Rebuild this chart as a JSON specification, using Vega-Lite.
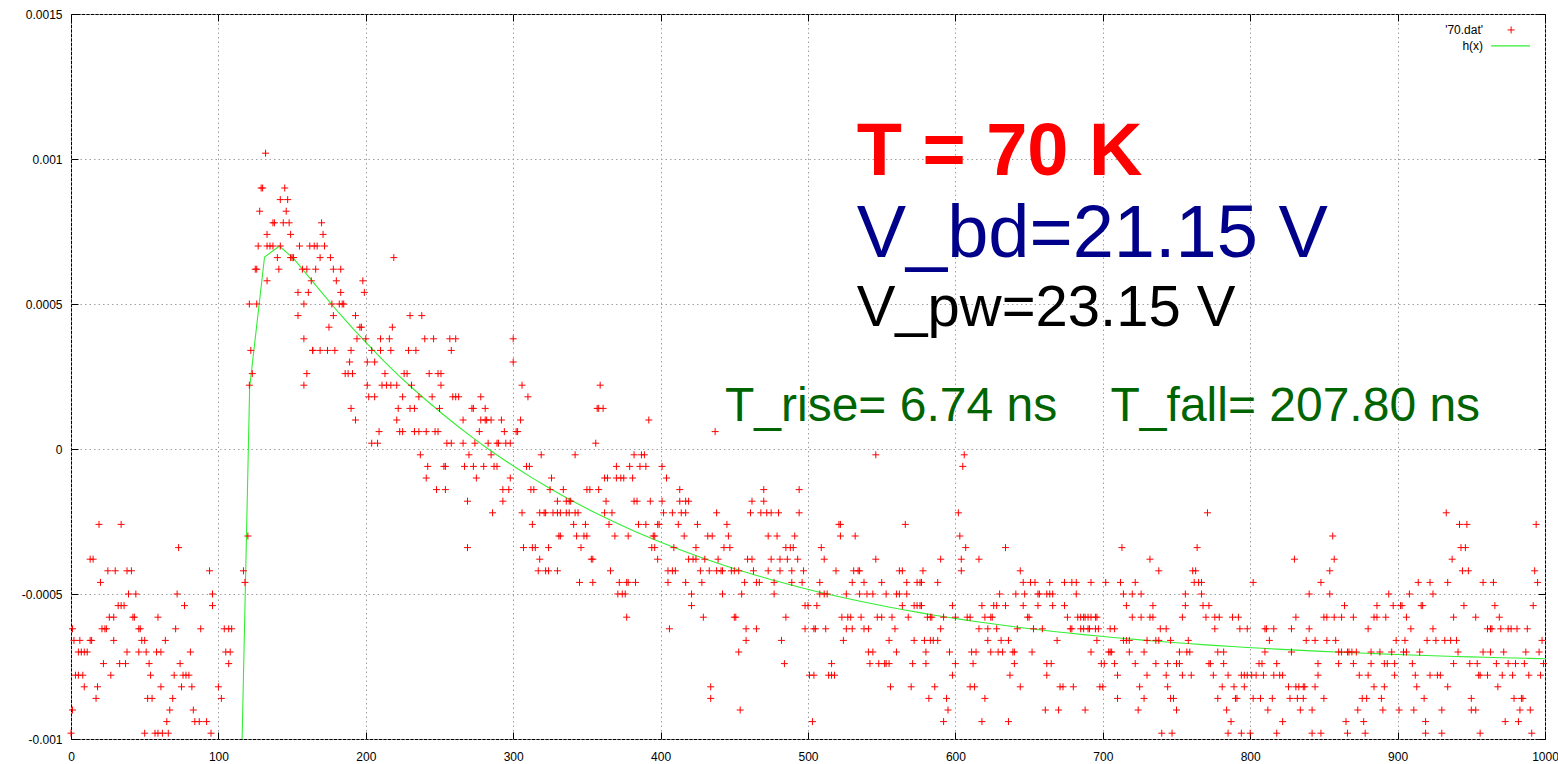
{
"$schema": "https://vega.github.io/schema/vega-lite/v6.json",
"width": 1474, "height": 725,
"autosize": {"type": "none"},
"padding": {"left": 71, "top": 14, "right": 13, "bottom": 25},
"background": "white",
"config": {"view": {"stroke": "black", "strokeWidth": 1}, "font": "Liberation Sans"},
"resolve": {"axis": {"x": "independent", "y": "independent"}},
"datasets": {
"fit": [
{"x":111.11,"y":-0.00218},{"x":121.21,"y":0.000214},{"x":131.31,"y":0.000662},{"x":141.41,"y":0.0007},{"x":151.52,"y":0.000654},{"x":161.62,"y":0.000592},{"x":171.72,"y":0.00053},{"x":181.82,"y":0.000469},{"x":191.92,"y":0.000412},{"x":202.02,"y":0.000357},{"x":212.12,"y":0.000304},{"x":222.22,"y":0.000254},{"x":232.32,"y":0.000207},{"x":242.42,"y":0.000162},{"x":252.53,"y":0.000119},{"x":262.63,"y":0.0000775},{"x":272.73,"y":0.0000384},{"x":282.83,"y":0.0000011},{"x":292.93,"y":-0.0000344},{"x":303.03,"y":-0.0000682},{"x":313.13,"y":-0.0001004},{"x":323.23,"y":-0.0001311},{"x":333.33,"y":-0.0001603},{"x":343.43,"y":-0.0001882},{"x":353.54,"y":-0.0002147},{"x":363.64,"y":-0.0002399},{"x":373.74,"y":-0.000264},{"x":383.84,"y":-0.0002869},{"x":393.94,"y":-0.0003088},{"x":404.04,"y":-0.0003295},{"x":414.14,"y":-0.0003494},{"x":424.24,"y":-0.0003682},{"x":434.34,"y":-0.0003862},{"x":444.44,"y":-0.0004033},{"x":454.55,"y":-0.0004196},{"x":464.65,"y":-0.0004352},{"x":474.75,"y":-0.00045},{"x":484.85,"y":-0.000464},{"x":494.95,"y":-0.0004775},{"x":505.05,"y":-0.0004903},{"x":515.15,"y":-0.0005024},{"x":525.25,"y":-0.000514},{"x":535.35,"y":-0.0005251},{"x":545.45,"y":-0.0005356},{"x":555.56,"y":-0.0005457},{"x":565.66,"y":-0.0005552},{"x":575.76,"y":-0.0005643},{"x":585.86,"y":-0.000573},{"x":595.96,"y":-0.0005812},{"x":606.06,"y":-0.0005891},{"x":616.16,"y":-0.0005966},{"x":626.26,"y":-0.0006037},{"x":636.36,"y":-0.0006105},{"x":646.46,"y":-0.000617},{"x":656.57,"y":-0.0006232},{"x":666.67,"y":-0.0006291},{"x":676.77,"y":-0.0006346},{"x":686.87,"y":-0.00064},{"x":696.97,"y":-0.000645},{"x":707.07,"y":-0.0006499},{"x":717.17,"y":-0.0006545},{"x":727.27,"y":-0.0006589},{"x":737.37,"y":-0.0006631},{"x":747.47,"y":-0.000667},{"x":757.58,"y":-0.0006708},{"x":767.68,"y":-0.0006745},{"x":777.78,"y":-0.0006779},{"x":787.88,"y":-0.0006812},{"x":797.98,"y":-0.0006843},{"x":808.08,"y":-0.0006873},{"x":818.18,"y":-0.0006901},{"x":828.28,"y":-0.0006928},{"x":838.38,"y":-0.0006954},{"x":848.48,"y":-0.0006978},{"x":858.59,"y":-0.0007002},{"x":868.69,"y":-0.0007024},{"x":878.79,"y":-0.0007045},{"x":888.89,"y":-0.0007065},{"x":898.99,"y":-0.0007084},{"x":909.09,"y":-0.0007103},{"x":919.19,"y":-0.000712},{"x":929.29,"y":-0.0007137},{"x":939.39,"y":-0.0007153},{"x":949.49,"y":-0.0007168},{"x":959.6,"y":-0.0007182},{"x":969.7,"y":-0.0007196},{"x":979.8,"y":-0.0007209},{"x":989.9,"y":-0.0007221},{"x":1000,"y":-0.0007233}
],
"pts": [
{"x":19,"y":-0.00026},{"x":34,"y":-0.00026},{"x":73,"y":-0.00034},{"x":13,"y":-0.00038},{"x":15,"y":-0.00038},{"x":25,"y":-0.00042},{"x":30,"y":-0.00042},{"x":38,"y":-0.00042},{"x":41,"y":-0.00042},{"x":20,"y":-0.00046},{"x":39,"y":-0.0005},{"x":44,"y":-0.0005},{"x":72,"y":-0.0005},{"x":32,"y":-0.00054},{"x":34,"y":-0.00054},{"x":36,"y":-0.00054},{"x":77,"y":-0.00054},{"x":26,"y":-0.00058},{"x":29,"y":-0.00058},{"x":42,"y":-0.00058},{"x":43,"y":-0.00058},{"x":59,"y":-0.00058},{"x":1,"y":-0.00062},{"x":21,"y":-0.00062},{"x":23,"y":-0.00062},{"x":24,"y":-0.00062},{"x":46,"y":-0.00062},{"x":47,"y":-0.00062},{"x":71,"y":-0.00062},{"x":2,"y":-0.00066},{"x":6,"y":-0.00066},{"x":13,"y":-0.00066},{"x":14,"y":-0.00066},{"x":29,"y":-0.00066},{"x":48,"y":-0.00066},{"x":50,"y":-0.00066},{"x":64,"y":-0.00066},{"x":5,"y":-0.0007},{"x":7,"y":-0.0007},{"x":9,"y":-0.0007},{"x":11,"y":-0.0007},{"x":38,"y":-0.0007},{"x":46,"y":-0.0007},{"x":51,"y":-0.0007},{"x":58,"y":-0.0007},{"x":61,"y":-0.0007},{"x":81,"y":-0.0007},{"x":22,"y":-0.00074},{"x":33,"y":-0.00074},{"x":37,"y":-0.00074},{"x":53,"y":-0.00074},{"x":74,"y":-0.00074},{"x":3,"y":-0.00078},{"x":5,"y":-0.00078},{"x":8,"y":-0.00078},{"x":27,"y":-0.00078},{"x":54,"y":-0.00078},{"x":70,"y":-0.00078},{"x":76,"y":-0.00078},{"x":78,"y":-0.00078},{"x":80,"y":-0.00078},{"x":9,"y":-0.00082},{"x":18,"y":-0.00082},{"x":61,"y":-0.00082},{"x":75,"y":-0.00082},{"x":82,"y":-0.00082},{"x":17,"y":-0.00086},{"x":52,"y":-0.00086},{"x":55,"y":-0.00086},{"x":69,"y":-0.00086},{"x":1,"y":-0.0009},{"x":67,"y":-0.0009},{"x":83,"y":-0.0009},{"x":65,"y":-0.00094},{"x":84,"y":-0.00094},{"x":0,"y":-0.00098},{"x":50,"y":-0.00098},{"x":57,"y":-0.00098},{"x":59,"y":-0.00098},{"x":62,"y":-0.00098},{"x":66,"y":-0.00098},
{"x":94,"y":-0.00042},{"x":96,"y":-0.0005},{"x":96,"y":-0.00054},{"x":88,"y":-0.00062},{"x":104,"y":-0.00062},{"x":107,"y":-0.00062},{"x":109,"y":-0.00062},{"x":105,"y":-0.0007},{"x":108,"y":-0.0007},{"x":107,"y":-0.00074},{"x":100,"y":-0.00082},{"x":102,"y":-0.00086},{"x":87,"y":-0.00094},{"x":92,"y":-0.00094},{"x":95,"y":-0.00098},
{"x":132,"y":0.00102},{"x":129,"y":0.0009},{"x":130,"y":0.0009},{"x":145,"y":0.0009},{"x":142,"y":0.00086},{"x":147,"y":0.00086},{"x":128,"y":0.00082},{"x":146,"y":0.00082},{"x":137,"y":0.00078},{"x":138,"y":0.00078},{"x":144,"y":0.00078},{"x":148,"y":0.00078},{"x":133,"y":0.00074},{"x":149,"y":0.00074},{"x":127,"y":0.0007},{"x":133,"y":0.0007},{"x":135,"y":0.0007},{"x":137,"y":0.0007},{"x":142,"y":0.0007},{"x":155,"y":0.0007},{"x":162,"y":0.0007},{"x":165,"y":0.0007},{"x":140,"y":0.00066},{"x":149,"y":0.00066},{"x":150,"y":0.00066},{"x":151,"y":0.00066},{"x":125,"y":0.00062},{"x":126,"y":0.00062},{"x":141,"y":0.00062},{"x":157,"y":0.00062},{"x":160,"y":0.00062},{"x":166,"y":0.00062},{"x":133,"y":0.00058},{"x":163,"y":0.00058},{"x":154,"y":0.00054},{"x":161,"y":0.00054},{"x":121,"y":0.0005},{"x":126,"y":0.0005},{"x":158,"y":0.0005},{"x":154,"y":0.00046},{"x":158,"y":0.00038},{"x":122,"y":0.00034},{"x":164,"y":0.00034},{"x":123,"y":0.00026},{"x":160,"y":0.00026},{"x":121,"y":0.00022},{"x":158,"y":0.00022},{"x":120,"y":-0.0003},{"x":117,"y":-0.00042},{"x":118,"y":-0.00046},
{"x":170,"y":0.00078},{"x":171,"y":0.00074},{"x":167,"y":0.0007},{"x":172,"y":0.0007},{"x":169,"y":0.00066},{"x":176,"y":0.00066},{"x":178,"y":0.00062},{"x":183,"y":0.00062},{"x":180,"y":0.00058},{"x":183,"y":0.00054},{"x":198,"y":0.00058},{"x":199,"y":0.00054},{"x":219,"y":0.00066},
{"x":177,"y":0.0005},{"x":182,"y":0.0005},{"x":184,"y":0.0005},{"x":185,"y":0.0005},{"x":178,"y":0.00046},{"x":193,"y":0.00046},{"x":230,"y":0.00046},{"x":238,"y":0.00046},{"x":175,"y":0.00042},{"x":196,"y":0.00042},{"x":197,"y":0.00042},{"x":218,"y":0.00042},{"x":194,"y":0.00038},{"x":200,"y":0.00038},{"x":210,"y":0.00038},{"x":216,"y":0.00038},{"x":240,"y":0.00038},{"x":246,"y":0.00038},{"x":164,"y":0.00034},{"x":169,"y":0.00034},{"x":174,"y":0.00034},{"x":179,"y":0.00034},{"x":190,"y":0.00034},{"x":204,"y":0.00034},{"x":210,"y":0.00034},{"x":217,"y":0.00034},{"x":229,"y":0.00034},{"x":234,"y":0.00034},{"x":189,"y":0.0003},{"x":201,"y":0.0003},{"x":206,"y":0.0003},{"x":186,"y":0.00026},{"x":188,"y":0.00026},{"x":191,"y":0.00026},{"x":213,"y":0.00026},{"x":226,"y":0.00026},{"x":228,"y":0.00026},{"x":243,"y":0.00026},{"x":249,"y":0.00026},{"x":201,"y":0.00022},{"x":211,"y":0.00022},{"x":214,"y":0.00022},{"x":217,"y":0.00022},{"x":221,"y":0.00022},{"x":231,"y":0.00022},{"x":202,"y":0.00018},{"x":206,"y":0.00018},{"x":225,"y":0.00018},{"x":236,"y":0.00018},{"x":245,"y":0.00018},{"x":190,"y":0.00014},{"x":222,"y":0.00014},{"x":230,"y":0.00014},{"x":233,"y":0.00014},{"x":193,"y":0.0001},{"x":221,"y":0.0001},{"x":209,"y":0.00006},{"x":223,"y":0.00006},{"x":225,"y":0.00006},{"x":233,"y":0.00006},{"x":236,"y":0.00006},{"x":241,"y":0.00006},{"x":204,"y":0.00002},{"x":208,"y":0.00002},{"x":237,"y":-0.00002},{"x":242,"y":-0.00006},{"x":241,"y":-0.0001},
{"x":251,"y":0.00022},{"x":306,"y":0.00022},{"x":259,"y":0.00018},{"x":261,"y":0.00018},{"x":263,"y":0.00018},{"x":278,"y":0.00018},{"x":310,"y":0.00018},{"x":250,"y":0.00014},{"x":272,"y":0.00014},{"x":273,"y":0.00014},{"x":281,"y":0.00014},{"x":266,"y":0.0001},{"x":278,"y":0.0001},{"x":281,"y":0.0001},{"x":282,"y":0.0001},{"x":285,"y":0.0001},{"x":292,"y":0.0001},{"x":305,"y":0.0001},{"x":247,"y":0.00006},{"x":249,"y":0.00006},{"x":277,"y":0.00006},{"x":294,"y":0.00006},{"x":302,"y":0.00006},{"x":303,"y":0.00006},{"x":255,"y":0.00002},{"x":258,"y":0.00002},{"x":266,"y":0.00002},{"x":274,"y":0.00002},{"x":283,"y":0.00002},{"x":289,"y":0.00002},{"x":290,"y":0.00002},{"x":295,"y":0.00002},{"x":298,"y":0.00002},{"x":270,"y":-0.00002},{"x":285,"y":-0.00002},{"x":319,"y":-0.00002},{"x":253,"y":-0.00006},{"x":254,"y":-0.00006},{"x":267,"y":-0.00006},{"x":273,"y":-0.00006},{"x":280,"y":-0.00006},{"x":287,"y":-0.00006},{"x":289,"y":-0.00006},{"x":309,"y":-0.00006},{"x":311,"y":-0.00006},{"x":275,"y":-0.0001},{"x":298,"y":-0.0001},{"x":326,"y":-0.0001},{"x":248,"y":-0.00014},{"x":254,"y":-0.00014},{"x":293,"y":-0.00014},{"x":297,"y":-0.00014},{"x":312,"y":-0.00014},{"x":314,"y":-0.00014},{"x":325,"y":-0.00014},{"x":269,"y":-0.00018},{"x":293,"y":-0.00018},{"x":286,"y":-0.00022},{"x":306,"y":-0.00022},{"x":318,"y":-0.00022},{"x":321,"y":-0.00022},{"x":322,"y":-0.00022},{"x":327,"y":-0.00022},{"x":313,"y":-0.00026},{"x":269,"y":-0.00034},{"x":307,"y":-0.00034},{"x":313,"y":-0.00034},{"x":315,"y":-0.00034},{"x":324,"y":-0.00034},{"x":318,"y":-0.00038},{"x":317,"y":-0.00042},{"x":322,"y":-0.00042},{"x":324,"y":-0.00042},
{"x":257,"y":0.00038},{"x":261,"y":0.00038},{"x":300,"y":0.00038},{"x":258,"y":0.00034},{"x":300,"y":0.0003},{"x":251,"y":0.00026},
{"x":359,"y":0.00022},{"x":357,"y":0.00014},{"x":358,"y":0.00014},{"x":361,"y":0.00014},{"x":392,"y":0.0001},{"x":356,"y":0.00002},{"x":342,"y":-0.00002},{"x":382,"y":-0.00002},{"x":387,"y":-0.00002},{"x":389,"y":-0.00002},{"x":370,"y":-0.00006},{"x":379,"y":-0.00006},{"x":386,"y":-0.00006},{"x":390,"y":-0.00006},{"x":401,"y":-0.00006},{"x":362,"y":-0.0001},{"x":364,"y":-0.0001},{"x":370,"y":-0.0001},{"x":373,"y":-0.0001},{"x":375,"y":-0.0001},{"x":381,"y":-0.0001},{"x":404,"y":-0.0001},{"x":334,"y":-0.00014},{"x":350,"y":-0.00014},{"x":352,"y":-0.00014},{"x":358,"y":-0.00014},{"x":330,"y":-0.00018},{"x":336,"y":-0.00018},{"x":338,"y":-0.00018},{"x":339,"y":-0.00018},{"x":363,"y":-0.00018},{"x":382,"y":-0.00018},{"x":384,"y":-0.00018},{"x":393,"y":-0.00018},{"x":401,"y":-0.00018},{"x":330,"y":-0.00022},{"x":332,"y":-0.00022},{"x":336,"y":-0.00022},{"x":338,"y":-0.00022},{"x":342,"y":-0.00022},{"x":344,"y":-0.00022},{"x":362,"y":-0.00022},{"x":367,"y":-0.00022},{"x":402,"y":-0.00022},{"x":408,"y":-0.00022},{"x":341,"y":-0.00026},{"x":349,"y":-0.00026},{"x":365,"y":-0.00026},{"x":385,"y":-0.00026},{"x":390,"y":-0.00026},{"x":398,"y":-0.00026},{"x":399,"y":-0.00026},{"x":331,"y":-0.0003},{"x":332,"y":-0.0003},{"x":343,"y":-0.0003},{"x":348,"y":-0.0003},{"x":350,"y":-0.0003},{"x":369,"y":-0.0003},{"x":378,"y":-0.0003},{"x":395,"y":-0.0003},{"x":396,"y":-0.0003},{"x":346,"y":-0.00034},{"x":394,"y":-0.00034},{"x":396,"y":-0.00034},{"x":409,"y":-0.00034},{"x":353,"y":-0.00038},{"x":354,"y":-0.00038},{"x":398,"y":-0.00038},{"x":330,"y":-0.00042},{"x":366,"y":-0.00042},{"x":405,"y":-0.00042},{"x":408,"y":-0.00042},{"x":410,"y":-0.00042},{"x":345,"y":-0.00046},{"x":354,"y":-0.00046},{"x":372,"y":-0.00046},{"x":377,"y":-0.00046},{"x":378,"y":-0.00046},{"x":383,"y":-0.00046},{"x":405,"y":-0.00046},{"x":371,"y":-0.0005},{"x":374,"y":-0.0005},{"x":376,"y":-0.0005},{"x":377,"y":-0.00058},{"x":406,"y":-0.00062},
{"x":437,"y":0.00006},{"x":413,"y":-0.00014},{"x":470,"y":-0.00014},{"x":494,"y":-0.00014},{"x":413,"y":-0.00018},{"x":417,"y":-0.00018},{"x":419,"y":-0.00018},{"x":462,"y":-0.00018},{"x":470,"y":-0.00018},{"x":414,"y":-0.00022},{"x":417,"y":-0.00022},{"x":438,"y":-0.00022},{"x":461,"y":-0.00022},{"x":468,"y":-0.00022},{"x":472,"y":-0.00022},{"x":475,"y":-0.00022},{"x":480,"y":-0.00022},{"x":494,"y":-0.00022},{"x":412,"y":-0.00026},{"x":425,"y":-0.00026},{"x":445,"y":-0.00026},{"x":416,"y":-0.0003},{"x":432,"y":-0.0003},{"x":435,"y":-0.0003},{"x":446,"y":-0.0003},{"x":473,"y":-0.0003},{"x":479,"y":-0.0003},{"x":491,"y":-0.0003},{"x":424,"y":-0.00034},{"x":443,"y":-0.00034},{"x":447,"y":-0.00034},{"x":485,"y":-0.00034},{"x":488,"y":-0.00034},{"x":490,"y":-0.00034},{"x":419,"y":-0.00038},{"x":422,"y":-0.00038},{"x":424,"y":-0.00038},{"x":430,"y":-0.00038},{"x":439,"y":-0.00038},{"x":459,"y":-0.00038},{"x":462,"y":-0.00038},{"x":475,"y":-0.00038},{"x":481,"y":-0.00038},{"x":486,"y":-0.00038},{"x":493,"y":-0.00038},{"x":427,"y":-0.00042},{"x":433,"y":-0.00042},{"x":438,"y":-0.00042},{"x":441,"y":-0.00042},{"x":442,"y":-0.00042},{"x":448,"y":-0.00042},{"x":450,"y":-0.00042},{"x":453,"y":-0.00042},{"x":463,"y":-0.00042},{"x":473,"y":-0.00042},{"x":481,"y":-0.00042},{"x":489,"y":-0.00042},{"x":417,"y":-0.00046},{"x":428,"y":-0.00046},{"x":457,"y":-0.00046},{"x":465,"y":-0.00046},{"x":467,"y":-0.00046},{"x":477,"y":-0.00046},{"x":489,"y":-0.00046},{"x":421,"y":-0.0005},{"x":442,"y":-0.0005},{"x":455,"y":-0.0005},{"x":477,"y":-0.0005},{"x":421,"y":-0.00054},{"x":429,"y":-0.00058},{"x":450,"y":-0.00058},{"x":451,"y":-0.00058},{"x":485,"y":-0.00058},{"x":458,"y":-0.00062},{"x":465,"y":-0.00062},{"x":458,"y":-0.00066},{"x":482,"y":-0.00066},{"x":453,"y":-0.0007},{"x":484,"y":-0.00074},{"x":434,"y":-0.00082},{"x":434,"y":-0.00086},{"x":454,"y":-0.0009},
{"x":546,"y":-0.00002},{"x":521,"y":-0.00026},{"x":522,"y":-0.00026},{"x":566,"y":-0.00026},{"x":522,"y":-0.0003},{"x":532,"y":-0.0003},{"x":509,"y":-0.00034},{"x":511,"y":-0.00038},{"x":546,"y":-0.00038},{"x":497,"y":-0.00042},{"x":519,"y":-0.00042},{"x":531,"y":-0.00042},{"x":534,"y":-0.00042},{"x":535,"y":-0.00042},{"x":562,"y":-0.00042},{"x":564,"y":-0.00042},{"x":496,"y":-0.00046},{"x":508,"y":-0.00046},{"x":530,"y":-0.00046},{"x":538,"y":-0.00046},{"x":550,"y":-0.00046},{"x":567,"y":-0.00046},{"x":574,"y":-0.00046},{"x":576,"y":-0.00046},{"x":508,"y":-0.0005},{"x":511,"y":-0.0005},{"x":513,"y":-0.0005},{"x":526,"y":-0.0005},{"x":535,"y":-0.0005},{"x":540,"y":-0.0005},{"x":544,"y":-0.0005},{"x":553,"y":-0.0005},{"x":560,"y":-0.0005},{"x":562,"y":-0.0005},{"x":567,"y":-0.0005},{"x":498,"y":-0.00054},{"x":500,"y":-0.00054},{"x":506,"y":-0.00054},{"x":564,"y":-0.00054},{"x":572,"y":-0.00054},{"x":574,"y":-0.00054},{"x":576,"y":-0.00054},{"x":523,"y":-0.00058},{"x":527,"y":-0.00058},{"x":529,"y":-0.00058},{"x":536,"y":-0.00058},{"x":547,"y":-0.00058},{"x":550,"y":-0.00058},{"x":557,"y":-0.00058},{"x":568,"y":-0.00058},{"x":498,"y":-0.00062},{"x":504,"y":-0.00062},{"x":505,"y":-0.00062},{"x":512,"y":-0.00062},{"x":526,"y":-0.00062},{"x":530,"y":-0.00062},{"x":538,"y":-0.00062},{"x":541,"y":-0.00062},{"x":559,"y":-0.00062},{"x":524,"y":-0.00066},{"x":555,"y":-0.00066},{"x":572,"y":-0.00066},{"x":541,"y":-0.0007},{"x":544,"y":-0.0007},{"x":560,"y":-0.0007},{"x":516,"y":-0.00074},{"x":542,"y":-0.00074},{"x":548,"y":-0.00074},{"x":552,"y":-0.00074},{"x":553,"y":-0.00074},{"x":555,"y":-0.00074},{"x":571,"y":-0.00074},{"x":501,"y":-0.00078},{"x":504,"y":-0.00078},{"x":514,"y":-0.00078},{"x":516,"y":-0.00078},{"x":518,"y":-0.00078},{"x":556,"y":-0.00082},{"x":570,"y":-0.00082},{"x":503,"y":-0.00094},
{"x":606,"y":-0.00002},{"x":605,"y":-0.00006},{"x":602,"y":-0.00022},{"x":603,"y":-0.0003},{"x":607,"y":-0.00034},{"x":634,"y":-0.00034},{"x":590,"y":-0.00038},{"x":604,"y":-0.00038},{"x":616,"y":-0.00038},{"x":578,"y":-0.00042},{"x":604,"y":-0.00042},{"x":644,"y":-0.00042},{"x":577,"y":-0.00046},{"x":588,"y":-0.00046},{"x":646,"y":-0.00046},{"x":651,"y":-0.00046},{"x":654,"y":-0.00046},{"x":630,"y":-0.0005},{"x":641,"y":-0.0005},{"x":647,"y":-0.0005},{"x":656,"y":-0.0005},{"x":657,"y":-0.0005},{"x":577,"y":-0.00054},{"x":598,"y":-0.00054},{"x":618,"y":-0.00054},{"x":626,"y":-0.00054},{"x":628,"y":-0.00054},{"x":634,"y":-0.00054},{"x":646,"y":-0.00054},{"x":656,"y":-0.00054},{"x":581,"y":-0.00058},{"x":583,"y":-0.00058},{"x":584,"y":-0.00058},{"x":592,"y":-0.00058},{"x":600,"y":-0.00058},{"x":608,"y":-0.00058},{"x":610,"y":-0.00058},{"x":620,"y":-0.00058},{"x":624,"y":-0.00058},{"x":625,"y":-0.00058},{"x":649,"y":-0.00058},{"x":650,"y":-0.00058},{"x":590,"y":-0.00062},{"x":616,"y":-0.00062},{"x":622,"y":-0.00062},{"x":628,"y":-0.00062},{"x":642,"y":-0.00062},{"x":653,"y":-0.00062},{"x":659,"y":-0.00062},{"x":579,"y":-0.00066},{"x":583,"y":-0.00066},{"x":585,"y":-0.00066},{"x":588,"y":-0.00066},{"x":622,"y":-0.00066},{"x":631,"y":-0.00066},{"x":636,"y":-0.00066},{"x":580,"y":-0.0007},{"x":596,"y":-0.0007},{"x":611,"y":-0.0007},{"x":614,"y":-0.0007},{"x":624,"y":-0.0007},{"x":629,"y":-0.0007},{"x":632,"y":-0.0007},{"x":639,"y":-0.0007},{"x":640,"y":-0.0007},{"x":652,"y":-0.0007},{"x":580,"y":-0.00074},{"x":600,"y":-0.00074},{"x":612,"y":-0.00074},{"x":640,"y":-0.00074},{"x":598,"y":-0.00078},{"x":637,"y":-0.00078},{"x":586,"y":-0.00082},{"x":610,"y":-0.00082},{"x":613,"y":-0.00082},{"x":644,"y":-0.00082},{"x":582,"y":-0.00086},{"x":594,"y":-0.00086},{"x":620,"y":-0.00086},{"x":595,"y":-0.0009},{"x":592,"y":-0.00094},{"x":618,"y":-0.00094},{"x":636,"y":-0.00094},
{"x":713,"y":-0.00034},{"x":732,"y":-0.00038},{"x":738,"y":-0.00042},{"x":664,"y":-0.00046},{"x":674,"y":-0.00046},{"x":679,"y":-0.00046},{"x":682,"y":-0.00046},{"x":692,"y":-0.00046},{"x":702,"y":-0.00046},{"x":712,"y":-0.00046},{"x":722,"y":-0.00046},{"x":662,"y":-0.0005},{"x":664,"y":-0.0005},{"x":666,"y":-0.0005},{"x":682,"y":-0.0005},{"x":714,"y":-0.0005},{"x":720,"y":-0.0005},{"x":726,"y":-0.0005},{"x":666,"y":-0.00054},{"x":674,"y":-0.00054},{"x":716,"y":-0.00054},{"x":734,"y":-0.00054},{"x":676,"y":-0.00058},{"x":683,"y":-0.00058},{"x":685,"y":-0.00058},{"x":687,"y":-0.00058},{"x":688,"y":-0.00058},{"x":690,"y":-0.00058},{"x":692,"y":-0.00058},{"x":695,"y":-0.00058},{"x":696,"y":-0.00058},{"x":720,"y":-0.00058},{"x":726,"y":-0.00058},{"x":732,"y":-0.00058},{"x":734,"y":-0.00058},{"x":678,"y":-0.00062},{"x":679,"y":-0.00062},{"x":685,"y":-0.00062},{"x":687,"y":-0.00062},{"x":690,"y":-0.00062},{"x":691,"y":-0.00062},{"x":695,"y":-0.00062},{"x":697,"y":-0.00062},{"x":705,"y":-0.00062},{"x":708,"y":-0.00062},{"x":739,"y":-0.00062},{"x":669,"y":-0.00066},{"x":696,"y":-0.00066},{"x":714,"y":-0.00066},{"x":716,"y":-0.00066},{"x":718,"y":-0.00066},{"x":730,"y":-0.00066},{"x":736,"y":-0.00066},{"x":738,"y":-0.00066},{"x":692,"y":-0.0007},{"x":704,"y":-0.0007},{"x":705,"y":-0.0007},{"x":706,"y":-0.0007},{"x":718,"y":-0.0007},{"x":728,"y":-0.0007},{"x":662,"y":-0.00074},{"x":665,"y":-0.00074},{"x":699,"y":-0.00074},{"x":701,"y":-0.00074},{"x":708,"y":-0.00074},{"x":722,"y":-0.00074},{"x":736,"y":-0.00074},{"x":662,"y":-0.00078},{"x":710,"y":-0.00078},{"x":730,"y":-0.00078},{"x":671,"y":-0.00082},{"x":673,"y":-0.00082},{"x":680,"y":-0.00082},{"x":698,"y":-0.00082},{"x":700,"y":-0.00082},{"x":725,"y":-0.00082},{"x":710,"y":-0.00086},{"x":728,"y":-0.00086},{"x":661,"y":-0.0009},{"x":670,"y":-0.0009},{"x":688,"y":-0.0009},{"x":724,"y":-0.0009},{"x":740,"y":-0.00098},
{"x":771,"y":-0.00022},{"x":764,"y":-0.00034},{"x":761,"y":-0.00042},{"x":763,"y":-0.00042},{"x":762,"y":-0.00046},{"x":765,"y":-0.00046},{"x":767,"y":-0.00046},{"x":802,"y":-0.00046},{"x":756,"y":-0.0005},{"x":767,"y":-0.0005},{"x":756,"y":-0.00054},{"x":768,"y":-0.00054},{"x":772,"y":-0.00054},{"x":754,"y":-0.00058},{"x":770,"y":-0.00058},{"x":776,"y":-0.00058},{"x":779,"y":-0.00058},{"x":788,"y":-0.00058},{"x":792,"y":-0.00058},{"x":743,"y":-0.00062},{"x":776,"y":-0.00062},{"x":793,"y":-0.00062},{"x":798,"y":-0.00062},{"x":810,"y":-0.00062},{"x":811,"y":-0.00062},{"x":816,"y":-0.00062},{"x":746,"y":-0.00066},{"x":758,"y":-0.00066},{"x":813,"y":-0.00066},{"x":752,"y":-0.0007},{"x":757,"y":-0.0007},{"x":759,"y":-0.0007},{"x":778,"y":-0.0007},{"x":782,"y":-0.0007},{"x":810,"y":-0.0007},{"x":744,"y":-0.00074},{"x":750,"y":-0.00074},{"x":752,"y":-0.00074},{"x":772,"y":-0.00074},{"x":773,"y":-0.00074},{"x":782,"y":-0.00074},{"x":806,"y":-0.00074},{"x":808,"y":-0.00074},{"x":818,"y":-0.00074},{"x":743,"y":-0.00078},{"x":754,"y":-0.00078},{"x":760,"y":-0.00078},{"x":775,"y":-0.00078},{"x":785,"y":-0.00078},{"x":794,"y":-0.00078},{"x":796,"y":-0.00078},{"x":798,"y":-0.00078},{"x":801,"y":-0.00078},{"x":804,"y":-0.00078},{"x":809,"y":-0.00078},{"x":816,"y":-0.00078},{"x":820,"y":-0.00078},{"x":822,"y":-0.00078},{"x":744,"y":-0.00082},{"x":781,"y":-0.00082},{"x":789,"y":-0.00082},{"x":796,"y":-0.00082},{"x":746,"y":-0.00086},{"x":748,"y":-0.00086},{"x":778,"y":-0.00086},{"x":790,"y":-0.00086},{"x":791,"y":-0.00086},{"x":802,"y":-0.00086},{"x":807,"y":-0.00086},{"x":815,"y":-0.00086},{"x":750,"y":-0.0009},{"x":784,"y":-0.0009},{"x":812,"y":-0.0009},{"x":787,"y":-0.00094},{"x":822,"y":-0.00094},{"x":747,"y":-0.00098},{"x":785,"y":-0.00098},{"x":794,"y":-0.00098},{"x":800,"y":-0.00098},{"x":818,"y":-0.00098},
{"x":856,"y":-0.0003},{"x":830,"y":-0.00038},{"x":857,"y":-0.00038},{"x":854,"y":-0.00042},{"x":848,"y":-0.00046},{"x":840,"y":-0.0005},{"x":854,"y":-0.0005},{"x":894,"y":-0.0005},{"x":864,"y":-0.00054},{"x":886,"y":-0.00054},{"x":897,"y":-0.00054},{"x":902,"y":-0.00054},{"x":903,"y":-0.00054},{"x":831,"y":-0.00058},{"x":850,"y":-0.00058},{"x":852,"y":-0.00058},{"x":857,"y":-0.00058},{"x":862,"y":-0.00058},{"x":870,"y":-0.00058},{"x":884,"y":-0.00058},{"x":886,"y":-0.00058},{"x":892,"y":-0.00058},{"x":906,"y":-0.00058},{"x":828,"y":-0.00062},{"x":840,"y":-0.00062},{"x":880,"y":-0.00062},{"x":838,"y":-0.00066},{"x":844,"y":-0.00066},{"x":852,"y":-0.00066},{"x":858,"y":-0.00066},{"x":899,"y":-0.00066},{"x":905,"y":-0.00066},{"x":828,"y":-0.0007},{"x":860,"y":-0.0007},{"x":862,"y":-0.0007},{"x":866,"y":-0.0007},{"x":867,"y":-0.0007},{"x":869,"y":-0.0007},{"x":872,"y":-0.0007},{"x":882,"y":-0.0007},{"x":888,"y":-0.0007},{"x":896,"y":-0.0007},{"x":904,"y":-0.0007},{"x":906,"y":-0.0007},{"x":846,"y":-0.00074},{"x":860,"y":-0.00074},{"x":870,"y":-0.00074},{"x":882,"y":-0.00074},{"x":891,"y":-0.00074},{"x":893,"y":-0.00074},{"x":898,"y":-0.00074},{"x":846,"y":-0.00078},{"x":874,"y":-0.00078},{"x":880,"y":-0.00078},{"x":898,"y":-0.00078},{"x":826,"y":-0.00082},{"x":831,"y":-0.00082},{"x":833,"y":-0.00082},{"x":836,"y":-0.00082},{"x":837,"y":-0.00082},{"x":844,"y":-0.00082},{"x":884,"y":-0.00082},{"x":891,"y":-0.00082},{"x":827,"y":-0.00086},{"x":832,"y":-0.00086},{"x":836,"y":-0.00086},{"x":850,"y":-0.00086},{"x":876,"y":-0.00086},{"x":879,"y":-0.00086},{"x":889,"y":-0.00086},{"x":834,"y":-0.0009},{"x":842,"y":-0.0009},{"x":873,"y":-0.0009},{"x":890,"y":-0.0009},{"x":901,"y":-0.0009},{"x":865,"y":-0.00094},{"x":877,"y":-0.00094},{"x":842,"y":-0.00098},{"x":848,"y":-0.00098},{"x":866,"y":-0.00098},{"x":878,"y":-0.00098},
{"x":933,"y":-0.00022},{"x":942,"y":-0.00026},{"x":947,"y":-0.00026},{"x":994,"y":-0.00026},{"x":943,"y":-0.00034},{"x":946,"y":-0.00034},{"x":937,"y":-0.00038},{"x":944,"y":-0.00042},{"x":948,"y":-0.00042},{"x":993,"y":-0.00042},{"x":914,"y":-0.00046},{"x":922,"y":-0.00046},{"x":934,"y":-0.00046},{"x":958,"y":-0.00046},{"x":965,"y":-0.00046},{"x":995,"y":-0.00046},{"x":908,"y":-0.0005},{"x":924,"y":-0.0005},{"x":916,"y":-0.00054},{"x":917,"y":-0.00054},{"x":945,"y":-0.00054},{"x":966,"y":-0.00054},{"x":992,"y":-0.00054},{"x":938,"y":-0.00058},{"x":953,"y":-0.00058},{"x":969,"y":-0.00058},{"x":909,"y":-0.00062},{"x":924,"y":-0.00062},{"x":961,"y":-0.00062},{"x":963,"y":-0.00062},{"x":964,"y":-0.00062},{"x":970,"y":-0.00062},{"x":975,"y":-0.00062},{"x":977,"y":-0.00062},{"x":981,"y":-0.00062},{"x":988,"y":-0.00062},{"x":920,"y":-0.00066},{"x":926,"y":-0.00066},{"x":932,"y":-0.00066},{"x":936,"y":-0.00066},{"x":940,"y":-0.00066},{"x":998,"y":-0.00066},{"x":915,"y":-0.0007},{"x":941,"y":-0.0007},{"x":958,"y":-0.0007},{"x":963,"y":-0.0007},{"x":972,"y":-0.0007},{"x":987,"y":-0.0007},{"x":996,"y":-0.0007},{"x":910,"y":-0.00074},{"x":938,"y":-0.00074},{"x":949,"y":-0.00074},{"x":954,"y":-0.00074},{"x":967,"y":-0.00074},{"x":975,"y":-0.00074},{"x":980,"y":-0.00074},{"x":986,"y":-0.00074},{"x":999,"y":-0.00074},{"x":912,"y":-0.00078},{"x":922,"y":-0.00078},{"x":927,"y":-0.00078},{"x":929,"y":-0.00078},{"x":955,"y":-0.00078},{"x":956,"y":-0.00078},{"x":961,"y":-0.00078},{"x":971,"y":-0.00078},{"x":978,"y":-0.00078},{"x":989,"y":-0.00078},{"x":997,"y":-0.00078},{"x":913,"y":-0.00082},{"x":934,"y":-0.00082},{"x":968,"y":-0.00082},{"x":918,"y":-0.00086},{"x":950,"y":-0.00086},{"x":979,"y":-0.00086},{"x":984,"y":-0.00086},{"x":985,"y":-0.00086},{"x":911,"y":-0.0009},{"x":930,"y":-0.0009},{"x":950,"y":-0.0009},{"x":953,"y":-0.0009},{"x":983,"y":-0.0009},{"x":990,"y":-0.0009},{"x":919,"y":-0.00094},{"x":973,"y":-0.00094},{"x":982,"y":-0.00094},{"x":919,"y":-0.00098},{"x":930,"y":-0.00098},{"x":956,"y":-0.00098},{"x":991,"y":-0.00098}
]
},
"layer": [
{
"data": {"name": "fit"},
"mark": {"type": "line", "color": "#33ee33", "strokeWidth": 1.1, "clip": true},
"encoding": {
"x": {"field": "x", "type": "quantitative", "scale": {"domain": [0, 1000], "nice": false, "zero": false},
"axis": {"orient": "bottom", "values": [0,100,200,300,400,500,600,700,800,900,1000], "labelExpr": "'' + datum.value", "title": null, "grid": true, "gridColor": "#a0a0a0", "gridDash": [1.5,3], "gridWidth": 1, "domain": false, "ticks": true, "tickColor": "black", "tickSize": -7, "tickWidth": 1, "labelPadding": 19, "labelFontSize": 12, "labelColor": "black", "labelFont": "Liberation Sans", "labelFlush": false, "labelOverlap": false, "labelBound": false}},
"y": {"field": "y", "type": "quantitative", "scale": {"domain": [-0.001, 0.0015], "nice": false, "zero": false},
"axis": {"orient": "left", "values": [-0.001,-0.0005,0,0.0005,0.001,0.0015], "labelExpr": "'' + datum.value", "title": null, "grid": true, "gridColor": "#a0a0a0", "gridDash": [1.5,3], "gridWidth": 1, "domain": false, "ticks": true, "tickColor": "black", "tickSize": -7, "tickWidth": 1, "labelPadding": 16, "labelFontSize": 12, "labelColor": "black", "labelFont": "Liberation Sans", "labelFlush": false, "labelOverlap": false, "labelBound": false}}
}
},
{
"data": {"name": "pts"},
"mark": {"type": "point", "shape": "M-1,0L1,0M0,-1L0,1", "filled": false, "color": "#ff0000", "size": 49, "strokeWidth": 1, "opacity": 1},
"encoding": {
"x": {"field": "x", "type": "quantitative", "scale": {"domain": [0, 1000], "nice": false, "zero": false}, "axis": null},
"y": {"field": "y", "type": "quantitative", "scale": {"domain": [-0.001, 0.0015], "nice": false, "zero": false}, "axis": null}
}
},
{
"data": {"values": [{"x": 0, "y": 0}]},
"mark": {"type": "point", "opacity": 0},
"encoding": {
"x": {"field": "x", "type": "quantitative", "scale": {"domain": [0, 1000], "nice": false, "zero": false},
"axis": {"orient": "top", "values": [0,100,200,300,400,500,600,700,800,900,1000], "title": null, "grid": false, "domain": false, "labels": false, "ticks": true, "tickColor": "black", "tickSize": -7, "tickWidth": 1}},
"y": {"field": "y", "type": "quantitative", "scale": {"domain": [-0.001, 0.0015], "nice": false, "zero": false},
"axis": {"orient": "right", "values": [-0.001,-0.0005,0,0.0005,0.001,0.0015], "title": null, "grid": false, "domain": false, "labels": false, "ticks": true, "tickColor": "black", "tickSize": -7, "tickWidth": 1}}
}
},
{
"data": {"values": [{"label": "T = 70 K", "x": 533, "y": 0.000945}]},
"mark": {"type": "text", "align": "left", "baseline": "alphabetic", "font": "Liberation Sans", "fontSize": 74, "fontWeight": "bold", "color": "#ff0000"},
"encoding": {
"x": {"field": "x", "type": "quantitative", "scale": {"domain": [0, 1000], "nice": false, "zero": false}, "axis": null},
"y": {"field": "y", "type": "quantitative", "scale": {"domain": [-0.001, 0.0015], "nice": false, "zero": false}, "axis": null},
"text": {"field": "label"}
}
},
{
"data": {"values": [{"label": "V_bd=21.15 V", "x": 533, "y": 0.000662}]},
"mark": {"type": "text", "align": "left", "baseline": "alphabetic", "font": "Liberation Sans", "fontSize": 74, "color": "#00008b"},
"encoding": {
"x": {"field": "x", "type": "quantitative", "scale": {"domain": [0, 1000], "nice": false, "zero": false}, "axis": null},
"y": {"field": "y", "type": "quantitative", "scale": {"domain": [-0.001, 0.0015], "nice": false, "zero": false}, "axis": null},
"text": {"field": "label"}
}
},
{
"data": {"values": [{"label": "V_pw=23.15 V", "x": 533, "y": 0.000424}]},
"mark": {"type": "text", "align": "left", "baseline": "alphabetic", "font": "Liberation Sans", "fontSize": 58, "color": "#000000"},
"encoding": {
"x": {"field": "x", "type": "quantitative", "scale": {"domain": [0, 1000], "nice": false, "zero": false}, "axis": null},
"y": {"field": "y", "type": "quantitative", "scale": {"domain": [-0.001, 0.0015], "nice": false, "zero": false}, "axis": null},
"text": {"field": "label"}
}
},
{
"data": {"values": [{"label": "T_rise= 6.74 ns\u00a0\u00a0\u00a0\u00a0T_fall= 207.80 ns", "x": 443.7, "y": 0.0000966}]},
"mark": {"type": "text", "align": "left", "baseline": "alphabetic", "font": "Liberation Sans", "fontSize": 48, "color": "#006400"},
"encoding": {
"x": {"field": "x", "type": "quantitative", "scale": {"domain": [0, 1000], "nice": false, "zero": false}, "axis": null},
"y": {"field": "y", "type": "quantitative", "scale": {"domain": [-0.001, 0.0015], "nice": false, "zero": false}, "axis": null},
"text": {"field": "label"}
}
},
{
"data": {"values": [{"label": "'70.dat'", "x": 958, "y": 0.001445}, {"label": "h(x)", "x": 958, "y": 0.00139}]},
"mark": {"type": "text", "align": "right", "baseline": "middle", "font": "Liberation Sans", "fontSize": 12, "color": "#000000"},
"encoding": {
"x": {"field": "x", "type": "quantitative", "scale": {"domain": [0, 1000], "nice": false, "zero": false}, "axis": null},
"y": {"field": "y", "type": "quantitative", "scale": {"domain": [-0.001, 0.0015], "nice": false, "zero": false}, "axis": null},
"text": {"field": "label"}
}
},
{
"data": {"values": [{"x": 977, "y": 0.001445}]},
"mark": {"type": "point", "shape": "M-1,0L1,0M0,-1L0,1", "filled": false, "color": "#ff0000", "size": 49, "strokeWidth": 1, "opacity": 1},
"encoding": {
"x": {"field": "x", "type": "quantitative", "scale": {"domain": [0, 1000], "nice": false, "zero": false}, "axis": null},
"y": {"field": "y", "type": "quantitative", "scale": {"domain": [-0.001, 0.0015], "nice": false, "zero": false}, "axis": null}
}
},
{
"data": {"values": [{"x": 963.4, "x2": 989.8, "y": 0.00139}]},
"mark": {"type": "rule", "color": "#33ee33", "strokeWidth": 1.1},
"encoding": {
"x": {"field": "x", "type": "quantitative", "scale": {"domain": [0, 1000], "nice": false, "zero": false}, "axis": null},
"x2": {"field": "x2"},
"y": {"field": "y", "type": "quantitative", "scale": {"domain": [-0.001, 0.0015], "nice": false, "zero": false}, "axis": null}
}
}
]
}
